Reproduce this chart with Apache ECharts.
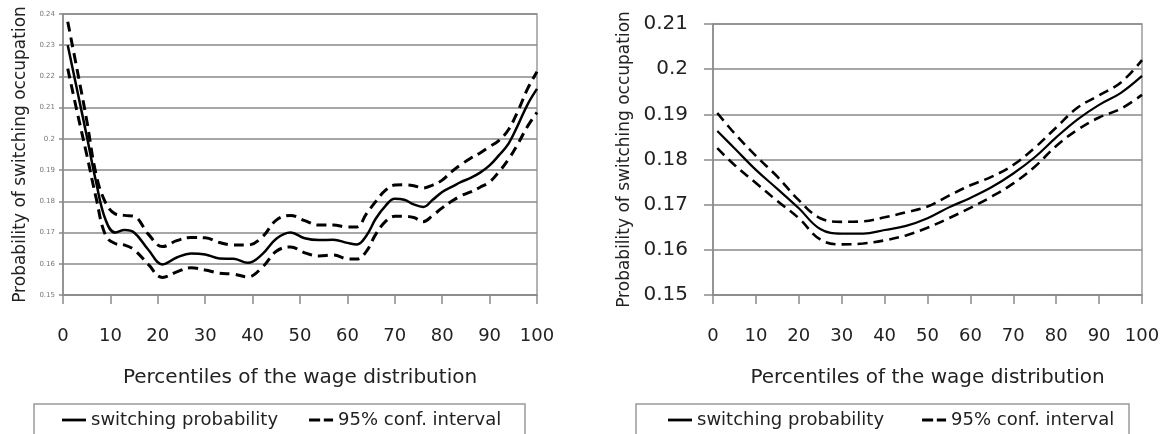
<!DOCTYPE html>
<html>
<head>
<meta charset="utf-8">
<script src="https://cdn.jsdelivr.net/npm/echarts@6/dist/echarts.min.js"></script>
<style>
html,body{margin:0;padding:0;background:#fff;}
#chart{width:1167px;height:434px;}
</style>
</head>
<body>
<div id="chart"></div>
<script>
// ---- Data ----
const xTitle = 'Percentiles of the wage distribution';
const yTitle = 'Probability of switching occupation';
const nameMain = 'switching probability';
const nameCI = '95% conf. interval';

// Left panel
const leftX = [1,3,5,7,9,11,13,15,18,21,24,27,30,33,36,39,42,45,48,51,54,57,60,62,64,66,68,70,72,74,76,78,80,82,84,86,88,90,92,94,96,98,100];
const leftMid = [0.2300,0.2155,0.2010,0.1860,0.1740,0.1700,0.1708,0.1700,0.1645,0.1598,0.1620,0.1633,0.1630,0.1617,0.1616,0.1603,0.1630,0.1680,0.1700,0.1682,0.1676,0.1677,0.1667,0.1662,0.1690,0.1745,0.1785,0.1808,0.1805,0.1790,0.1782,0.1805,0.1830,0.1846,0.1862,0.1875,0.1892,0.1915,0.1948,0.1985,0.2045,0.2110,0.2160];
const leftUpper = [0.2375,0.2220,0.2060,0.1885,0.1795,0.1760,0.1755,0.1752,0.1695,0.1655,0.1674,0.1684,0.1683,0.1668,0.1660,0.1660,0.1685,0.1740,0.1755,0.1738,0.1724,0.1724,0.1718,0.1718,0.1760,0.1800,0.1835,0.1852,0.1853,0.1850,0.1843,0.1852,0.1868,0.1895,0.1918,0.1938,0.1955,0.1975,0.1995,0.2030,0.2090,0.2160,0.2215];
const leftLower = [0.2225,0.2085,0.1950,0.1810,0.1690,0.1665,0.1660,0.1645,0.1598,0.1556,0.1574,0.1587,0.1580,0.1570,0.1567,0.1558,0.1588,0.1640,0.1654,0.1635,0.1625,0.1628,0.1616,0.1615,0.1640,0.1695,0.1735,0.1752,0.1752,0.1748,0.1735,0.1755,0.1779,0.1800,0.1818,0.1830,0.1845,0.1862,0.1895,0.1935,0.1985,0.2040,0.2085];

// Right panel
const rightX = [1,5,10,15,20,25,30,35,40,45,50,55,60,65,70,75,80,85,90,95,100];
const rightMid = [0.1863,0.1825,0.1777,0.1735,0.1692,0.1646,0.1636,0.1636,0.1644,0.1653,0.1670,0.1694,0.1715,0.1739,0.1769,0.1805,0.1849,0.1889,0.1921,0.1947,0.1985];
const rightUpper = [0.1903,0.1858,0.1808,0.1762,0.1710,0.1670,0.1662,0.1663,0.1672,0.1683,0.1696,0.1720,0.1743,0.1762,0.1788,0.1826,0.1871,0.1915,0.1942,0.1970,0.2020];
const rightLower = [0.1825,0.1788,0.1748,0.1708,0.1670,0.1623,0.1612,0.1614,0.1621,0.1632,0.1649,0.1670,0.1693,0.1718,0.1747,0.1784,0.1830,0.1866,0.1893,0.1912,0.1943];

// Axis ranges
const xRange = {min: 0, max: 100, interval: 10};
const leftYRange = {min: 0.15, max: 0.24, interval: 0.01};
const rightYRange = {min: 0.15, max: 0.21, interval: 0.01};

// ---- Build chart ----
const FONT = 'DejaVu Sans';
const pairs = (xs, ys) => xs.map((x, i) => [x, ys[i]]);
const ICON_SOLID = 'path://M0,0h26v3h-26z';
const ICON_DASH = 'path://M0,0h12v3h-12z M16,0h10v3h-10z';

function xAxisCfg(gi) {
  return {
    type: 'value', gridIndex: gi, min: xRange.min, max: xRange.max, interval: xRange.interval,
    axisLine: {show: true, lineStyle: {color: '#8a8a8a', width: 1.5}},
    axisTick: {show: true, length: 9, lineStyle: {color: '#8a8a8a', width: 1.5}},
    axisLabel: {fontSize: 18, color: '#222', fontFamily: FONT, margin: 32},
    splitLine: {show: false},
    name: xTitle, nameLocation: 'middle', nameGap: 73,
    nameTextStyle: {fontSize: 20, color: '#222', fontFamily: FONT}
  };
}
function yAxisCfg(gi, r, small) {
  return {
    type: 'value', gridIndex: gi, min: r.min, max: r.max, interval: r.interval,
    axisLine: {show: true, lineStyle: {color: '#8a8a8a', width: 1.5}},
    axisTick: {show: true, length: small ? 4 : 9, lineStyle: {color: '#8a8a8a', width: 1.5}},
    axisLabel: small ? {fontSize: 7, color: '#777', fontFamily: FONT, margin: 8,
                        formatter: v => String(+v.toFixed(2))}
                     : {fontSize: 20, color: '#222', fontFamily: FONT, margin: 25,
                        formatter: v => String(+v.toFixed(2))},
    splitLine: {show: true, lineStyle: {color: '#8a8a8a', width: 1.5}},
    name: yTitle, nameLocation: 'middle', nameGap: small ? 34 : 80,
    nameTextStyle: {fontSize: 17, color: '#222', fontFamily: FONT}
  };
}
function lineSeries(name, gi, xs, ys, dashed, w) {
  return {
    type: 'line', name: name, xAxisIndex: gi, yAxisIndex: gi,
    data: pairs(xs, ys), smooth: 0.4, symbol: 'none', showSymbol: false,
    lineStyle: {color: '#000', width: w, type: dashed ? [10, 6] : 'solid'},
    itemStyle: {color: '#000'}, animation: false, silent: true
  };
}
function legendCfg(left, gap) {
  return {
    left: left, top: 406, itemWidth: 24, itemHeight: 14, itemGap: gap, symbolKeepAspect: true,
    selectedMode: false,
    data: [{name: nameMain, icon: ICON_SOLID}, {name: nameCI, icon: ICON_DASH}],
    itemStyle: {color: '#000', borderWidth: 0},
    textStyle: {fontSize: 18, color: '#222', fontFamily: FONT}
  };
}

const option = {
  animation: false,
  backgroundColor: '#fff',
  grid: [
    {left: 63, right: 1167 - 537, top: 14, bottom: 434 - 295, show: true, borderColor: '#9a9a9a', borderWidth: 1.5, backgroundColor: 'transparent'},
    {left: 713, right: 1167 - 1142, top: 24, bottom: 434 - 295, show: true, borderColor: '#9a9a9a', borderWidth: 1.5, backgroundColor: 'transparent'}
  ],
  xAxis: [xAxisCfg(0), xAxisCfg(1)],
  yAxis: [yAxisCfg(0, leftYRange, true), yAxisCfg(1, rightYRange, false)],
  legend: [legendCfg(57, 31), legendCfg(663, 38)],
  graphic: [
    {type: 'rect', shape: {x: 34, y: 404, width: 491, height: 40}, style: {fill: 'none', stroke: '#9a9a9a', lineWidth: 1.5}},
    {type: 'rect', shape: {x: 636, y: 404, width: 493, height: 40}, style: {fill: 'none', stroke: '#9a9a9a', lineWidth: 1.5}}
  ],
  series: [
    lineSeries(nameMain, 0, leftX, leftMid, false, 2.5),
    lineSeries(nameCI, 0, leftX, leftUpper, true, 3),
    lineSeries(nameCI, 0, leftX, leftLower, true, 3),
    lineSeries(nameMain, 1, rightX, rightMid, false, 2.2),
    lineSeries(nameCI, 1, rightX, rightUpper, true, 2.6),
    lineSeries(nameCI, 1, rightX, rightLower, true, 2.6)
  ]
};

const chart = echarts.init(document.getElementById('chart'), null, {renderer: 'canvas'});
chart.setOption(option);
</script>
</body>
</html>
